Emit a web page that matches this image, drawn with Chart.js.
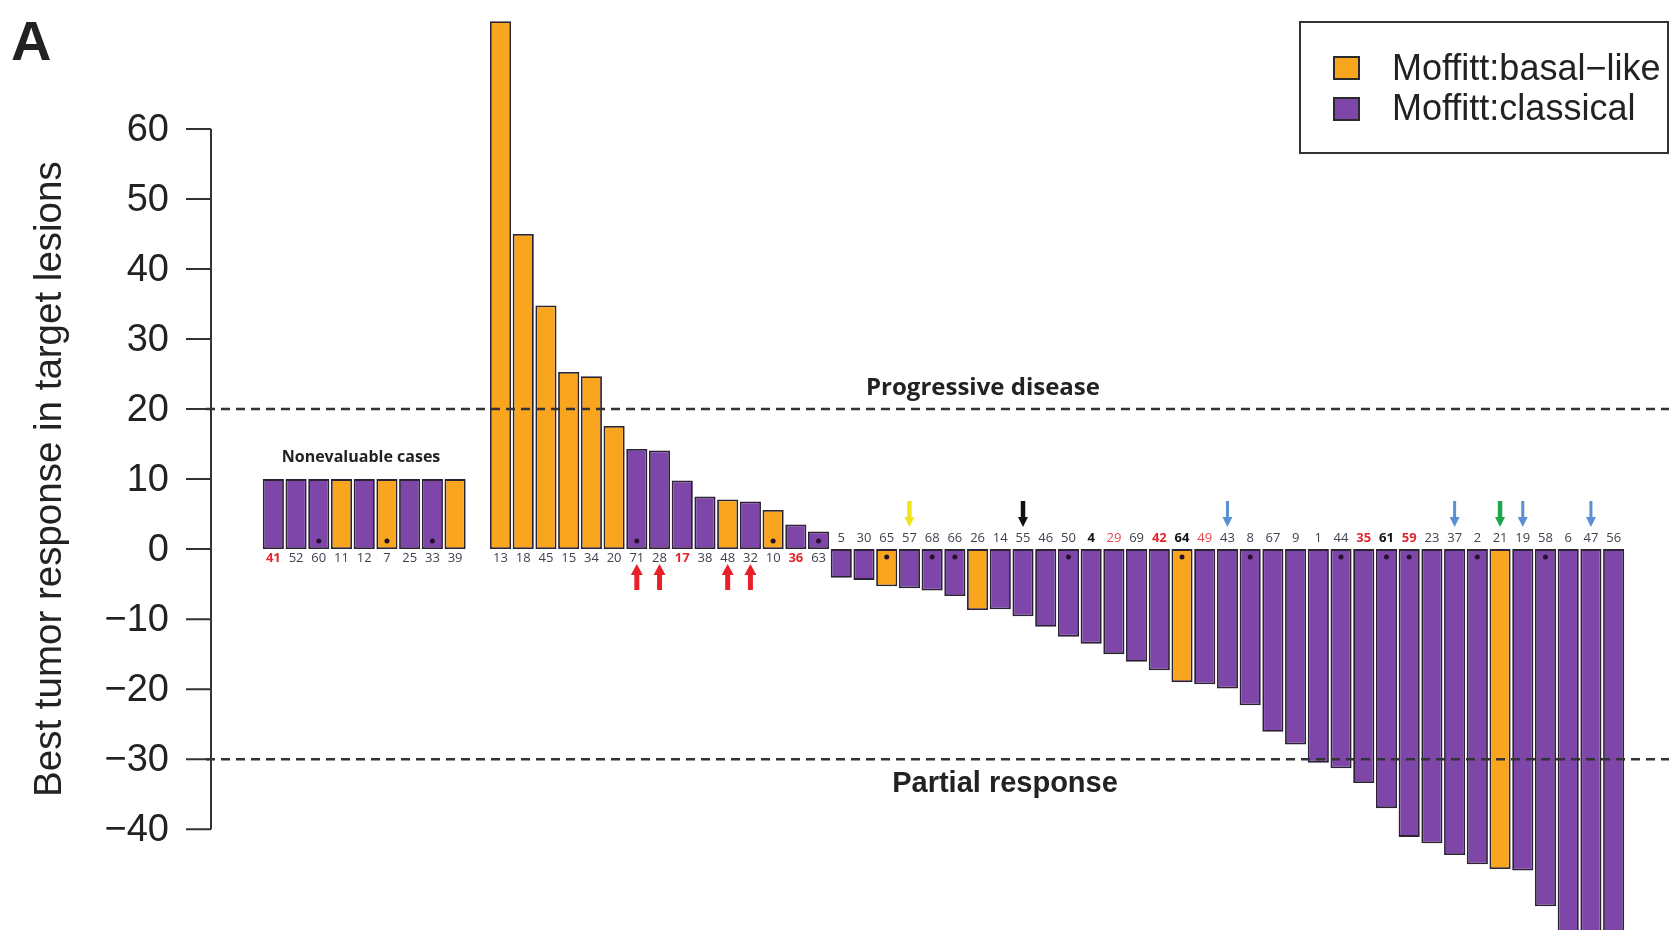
<!DOCTYPE html>
<html>
<head>
<meta charset="utf-8">
<script src="https://cdn.jsdelivr.net/npm/chart.js@4"></script>
<style>
  html, body { margin: 0; padding: 0; background: #fff; }
  #wrap { width: 1669px; height: 930px; position: relative; }
</style>
</head>
<body>
<div id="wrap"><canvas id="waterfall"></canvas></div>
<script>
// patient ids, '' is the spacer between nonevaluable cases and the rest
const patients = ['41','52','60','11','12','7','25','33','39','',
  '13','18','45','15','34','20','71','28','17','38','48','32','10','36','63',
  '5','30','65','57','68','66','26','14','55','46','50','4','29','69','42','64','49','43',
  '8','67','9','1','44','35','61','59','23','37','2','21','19','58','6','47','56'];

// best response (%), nonevaluable cases drawn at 10
const response = [10,10,10,10,10,10,10,10,10,null,
  75.4,45,34.8,25.3,24.7,17.6,14.3,14.1,9.8,7.5,7.1,6.8,5.6,3.5,2.5,
  -4.1,-4.4,-5.3,-5.6,-5.9,-6.7,-8.7,-8.6,-9.6,-11.1,-12.5,-13.5,-15.0,-16.1,-17.3,-19.0,-19.3,-19.9,
  -22.3,-26.1,-27.9,-30.5,-31.3,-33.4,-37.0,-41.1,-42.0,-43.7,-45.0,-45.7,-45.9,-51.0,-55,-55,-55];

// B = Moffitt basal-like, C = Moffitt classical
const subtype = ['C','C','C','B','C','B','C','C','B','',
  'B','B','B','B','B','B','C','C','C','C','B','C','B','C','C',
  'C','C','B','C','C','C','B','C','C','C','C','C','C','C','C','B','C','C',
  'C','C','C','C','C','C','C','C','C','C','C','B','C','C','C','C','C'];

const redBold = ['41','17','36','42','35','59'];
const redPlain = ['29','49'];
const blackBold = ['4','64','61'];
const dotted = ['60','7','33','71','10','63','65','68','66','50','64','8','44','61','59','2','58'];
const upArrows = ['71','28','48','32'];
const downArrows = [['57','#f0e41a'],['55','#111111'],['43','#5b8fd3'],['37','#5b8fd3'],['21','#1fa64a'],['19','#5b8fd3'],['47','#5b8fd3']];
const yTicks = [60,50,40,30,20,10,0,-10,-20,-30,-40];
const cutoffs = [20, -30];

const ORANGE = '#f9a61e';
const PURPLE = '#7e46a9';

function arrow(ctx, x, yTail, yTip, color, shaft, headW, headLen) {
  const dir = yTip > yTail ? 1 : -1;
  ctx.fillStyle = color;
  ctx.fillRect(x - shaft / 2, Math.min(yTail, yTip - dir * headLen), shaft, Math.abs(yTip - dir * headLen - yTail));
  ctx.beginPath();
  ctx.moveTo(x - headW / 2, yTip - dir * headLen);
  ctx.lineTo(x + headW / 2, yTip - dir * headLen);
  ctx.lineTo(x, yTip);
  ctx.closePath();
  ctx.fill();
}

const decorations = {
  id: 'decorations',
  afterDraw(chart) {
    const ctx = chart.ctx;
    const x = chart.scales.x, y = chart.scales.y;
    const y0 = y.getPixelForValue(0);
    ctx.save();

    // cutoff lines
    ctx.strokeStyle = '#333';
    ctx.lineWidth = 2.5;
    ctx.setLineDash([9, 6]);
    cutoffs.forEach(v => {
      const py = y.getPixelForValue(v);
      ctx.beginPath(); ctx.moveTo(206, py); ctx.lineTo(1669, py); ctx.stroke();
    });
    ctx.setLineDash([]);

    // left axis, R style
    ctx.strokeStyle = '#333';
    ctx.lineWidth = 2;
    ctx.beginPath();
    ctx.moveTo(211, y.getPixelForValue(60));
    ctx.lineTo(211, y.getPixelForValue(-40));
    yTicks.forEach(v => {
      const py = y.getPixelForValue(v);
      ctx.moveTo(186, py); ctx.lineTo(211, py);
    });
    ctx.stroke();
    ctx.fillStyle = '#222';
    ctx.font = '38px "Liberation Sans", Arial, sans-serif';
    ctx.textAlign = 'right';
    ctx.textBaseline = 'middle';
    yTicks.forEach(v => {
      ctx.fillText(v < 0 ? '\u2212' + Math.abs(v) : String(v), 169, y.getPixelForValue(v) + 1);
    });

    // axis title
    ctx.save();
    ctx.translate(50, (y.getPixelForValue(60) + y.getPixelForValue(-40)) / 2);
    ctx.rotate(-Math.PI / 2);
    ctx.textAlign = 'center';
    ctx.font = '38.5px "Liberation Sans", Arial, sans-serif';
    ctx.fillText('Best tumor response in target lesions', 0, 0);
    ctx.restore();

    // panel letter
    ctx.font = 'bold 56px "Liberation Sans", Arial, sans-serif';
    ctx.textAlign = 'left';
    ctx.textBaseline = 'alphabetic';
    ctx.fillText('A', 11, 60);

    // patient ids, dots, arrows
    patients.forEach((id, i) => {
      if (!id) return;
      const px = x.getPixelForValue(i);
      const v = response[i];
      let color = '#3e4350', weight = '';
      if (redBold.includes(id)) { color = '#e3262d'; weight = 'bold '; }
      else if (redPlain.includes(id)) { color = '#e8464c'; }
      else if (blackBold.includes(id)) { color = '#111'; weight = 'bold '; }
      ctx.font = weight + '13px "Open Sans", sans-serif';
      ctx.fillStyle = color;
      ctx.textAlign = 'center';
      ctx.textBaseline = 'middle';
      ctx.fillText(id, px, v > 0 ? y0 + 9 : y0 - 11);
      if (dotted.includes(id)) {
        ctx.fillStyle = '#24102f';
        ctx.beginPath();
        ctx.arc(px, v > 0 ? y0 - 8 : y0 + 8, 2.5, 0, Math.PI * 2);
        ctx.fill();
      }
      if (upArrows.includes(id)) arrow(ctx, px, 590, 564, '#e8202a', 5, 12, 11);
      const d = downArrows.find(a => a[0] === id);
      if (d) arrow(ctx, px, 501, 527, d[1], d[1] === '#5b8fd3' ? 3 : 4.5, 10, 10);
    });

    // annotations
    ctx.fillStyle = '#222';
    ctx.textAlign = 'center';
    ctx.textBaseline = 'alphabetic';
    ctx.font = 'bold 16px "Open Sans", sans-serif';
    ctx.fillText('Nonevaluable cases', 361, 462);
    ctx.font = 'bold 24px "Open Sans", sans-serif';
    ctx.fillText('Progressive disease', 983, 395);
    ctx.font = 'bold 29px "Liberation Sans", Arial, sans-serif';
    ctx.fillText('Partial response', 1005, 792);

    // legend box
    ctx.strokeStyle = '#333';
    ctx.lineWidth = 2;
    ctx.strokeRect(1300, 22, 368, 131);
    [['Moffitt:basal\u2212like', ORANGE, 57, 80], ['Moffitt:classical', PURPLE, 98, 120]].forEach(([t, c, sy, by]) => {
      ctx.fillStyle = c;
      ctx.fillRect(1334, sy, 25, 22);
      ctx.lineWidth = 2;
      ctx.strokeStyle = '#2a2a2a';
      ctx.strokeRect(1334, sy, 25, 22);
      ctx.fillStyle = '#222';
      ctx.font = '36px "Liberation Sans", Arial, sans-serif';
      ctx.textAlign = 'left';
      ctx.fillText(t, 1392, by);
    });
    ctx.restore();
  }
};

new Chart(document.getElementById('waterfall'), {
  type: 'bar',
  data: {
    labels: patients,
    datasets: [{
      data: response,
      backgroundColor: subtype.map(s => s === 'B' ? ORANGE : PURPLE),
      borderColor: '#2b2233',
      borderWidth: 1.8,
      borderSkipped: false,
      barPercentage: 1,
      categoryPercentage: 0.93
    }]
  },
  options: {
    responsive: true,
    maintainAspectRatio: false,
    animation: false,
    layout: { padding: { left: 262, right: 44, top: 17, bottom: 0 } },
    plugins: { legend: { display: false }, tooltip: { enabled: false } },
    scales: {
      x: { display: false, offset: true },
      y: { display: false, min: -54.4, max: 76 }
    }
  },
  plugins: [decorations]
});
</script>
</body>
</html>
